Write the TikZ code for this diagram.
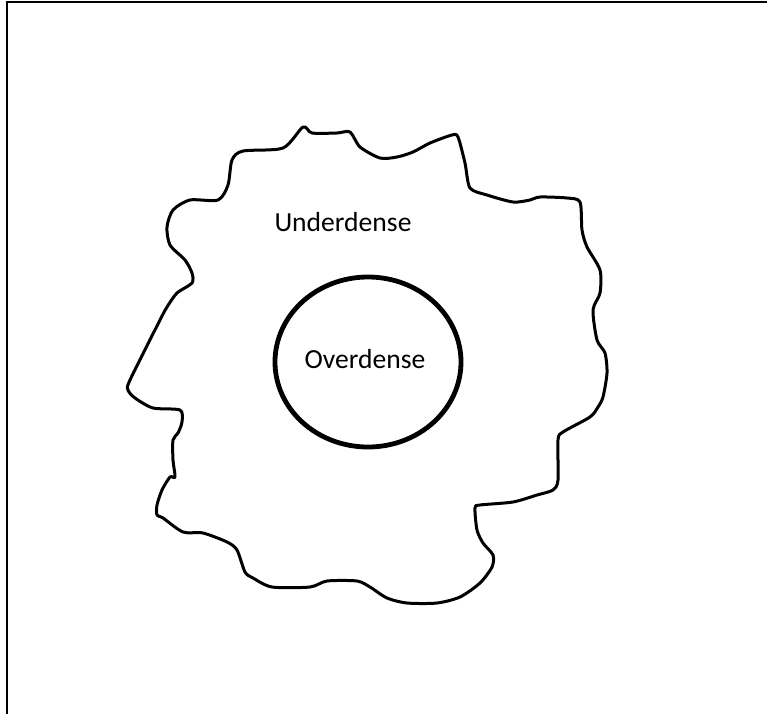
\documentclass[tikz,border=0pt]{standalone}
\usepackage{fontspec}
\setmainfont{Carlito}
\usetikzlibrary{shapes.geometric}

\begin{document}
\begin{tikzpicture}[
  x=0.5pt, y=-0.5pt,
  font=\fontsize{13.8}{16}\selectfont,
  frame/.style={draw, line width=1pt},
  void/.style={draw, line width=1.5pt, line join=round},
  halo/.style={draw, ellipse, line width=2.4pt, minimum width=93pt, minimum height=85pt, inner sep=0pt},
  lbl/.style={inner sep=1pt}
]
\useasboundingbox (0,0) rectangle (767,714);
\draw[frame] (7,714) -- (7,2) -- (767,2);

% underdense region
\draw[void] plot[smooth cycle, tension=0.45] coordinates {
  (303,127) (312,133) (337,133) (350,132) (360,147) (380,158) (397,157)
  (413,152) (430,143) (452,135) (458,137) (465,163) (470,188) (487,195)
  (513,202) (530,200) (540,197) (567,198) (580,202) (582,230) (587,247)
  (600,270) (600,293) (593,310) (597,340) (605,353) (607,373) (603,397)
  (598,407) (590,417) (563,432) (558,440) (558,480) (553,490) (537,495)
  (513,502) (480,505) (475,508) (477,530) (483,543) (493,555) (492,567)
  (480,583) (460,597) (437,603) (407,603) (387,598) (370,587) (357,581)
  (327,581) (310,587) (272,587) (253,578) (245,572) (237,550) (227,542)
  (203,533) (183,532) (163,518) (157,515) (157,505) (162,490) (170,477)
  (175,477) (173,460) (173,440) (178,433) (182,422) (180,410) (153,408)
  (135,398) (128,390) (130,380) (160,320) (167,307) (177,293) (192,283)
  (192,273) (185,260) (170,245) (167,227) (173,210) (190,200) (218,200)
  (228,185) (232,160) (243,151) (283,148)};

\node[lbl] (under) at (343,222) {Underdense};
\node[halo] (over) at (368,362) {};
\node[lbl] (overtext) at (365,359) {Overdense};
\end{tikzpicture}
\end{document}
